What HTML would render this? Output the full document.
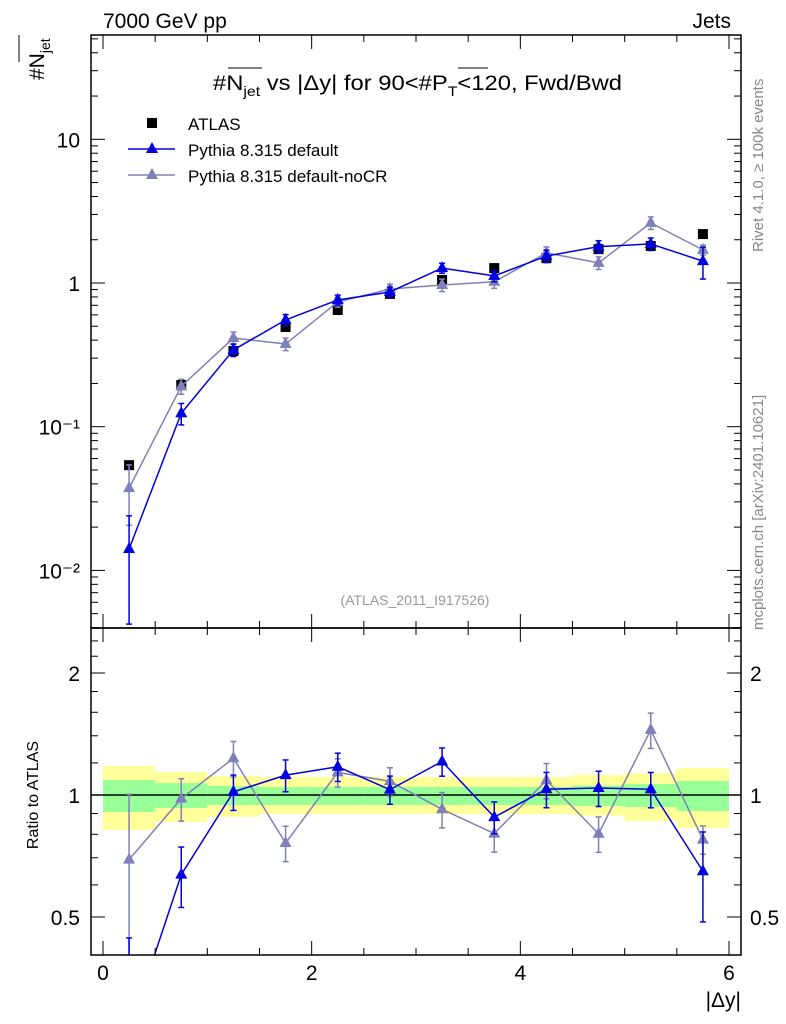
<!DOCTYPE html>
<html><head><meta charset="utf-8"><style>
html,body{margin:0;padding:0;background:#fff;width:786px;height:1024px;overflow:hidden;position:relative}
svg{display:block;font-family:"Liberation Sans","DejaVu Sans",sans-serif;position:absolute;left:0;top:0}
</style></head><body>
<svg id="c" width="786" height="1024" viewBox="0 0 786 1024"></svg>
<script>
const xCenters=[0.25,0.75,1.25,1.75,2.25,2.75,3.25,3.75,4.25,4.75,5.25,5.75];
const atlasVals=[0.054,0.195,0.336,0.494,0.649,0.84,1.05,1.27,1.49,1.72,1.81,2.19];
const defVals=[0.0141,0.124,0.342,0.553,0.762,0.866,1.27,1.12,1.54,1.79,1.87,1.42];
const defErr=[0.7,0.17,0.1,0.09,0.08,0.08,0.08,0.09,0.1,0.1,0.1,0.25];
const nocrVals=[0.0374,0.191,0.414,0.376,0.738,0.908,0.968,1.02,1.62,1.38,2.62,1.70];
const nocrErr=[0.45,0.12,0.1,0.1,0.08,0.08,0.1,0.1,0.1,0.1,0.1,0.08];
const yellowHi=[1.18,1.14,1.114,1.108,1.108,1.108,1.108,1.108,1.108,1.12,1.133,1.166];
const yellowLo=[0.82,0.858,0.883,0.898,0.898,0.898,0.898,0.898,0.898,0.89,0.863,0.829];
const greenHi=[1.089,1.07,1.052,1.046,1.046,1.046,1.046,1.046,1.046,1.055,1.064,1.083];
const greenLo=[0.908,0.929,0.945,0.945,0.945,0.945,0.945,0.945,0.945,0.94,0.934,0.913];
const xTicks=[0,2,4,6];
const yTicksMain=[10,1,0.1,0.01];
const yTickLabelsMain=["10","1","10⁻¹","10⁻²"];
const yTicksRatio=[0.5,1,2];

const L=91,R=741,T=35,M=628,B=955;
const X=v=>103+v*(626/6);
const Y=v=>283-Math.log10(v)*143.7;
const YR=v=>795-Math.log2(v)*122;
const svg=document.getElementById('c');
const NS='http://www.w3.org/2000/svg';
function el(tag,at,parent){const e=document.createElementNS(NS,tag);for(const k in at)e.setAttribute(k,at[k]);(parent||svg).appendChild(e);return e;}
function txt(s,at,parent){const e=el('text',at,parent);e.textContent=s;return e;}

const bands=el('g',{});


xCenters.forEach((c,i)=>{
  const x0=X(c-0.25),x1=X(c+0.25);
  const y=el('rect',{x:x0,y:YR(yellowHi[i]),width:x1-x0,height:YR(yellowLo[i])-YR(yellowHi[i]),fill:'#ffff99'},bands);
  
  
  const g=el('rect',{x:x0,y:YR(greenHi[i]),width:x1-x0,height:YR(greenLo[i])-YR(greenHi[i]),fill:'#99ff99'},bands);
  
  
});
el('line',{x1:L,x2:R,y1:YR(1),y2:YR(1),stroke:'#000','stroke-width':1.5});

function tri(g,x,y,col){el('path',{d:`M${x},${y-7}L${x+6},${y+4}L${x-6},${y+4}Z`,fill:col},g);}
function clampY(y,t,b){return Math.max(t,Math.min(b,y));}
function series(vals,err,col,name,ratio){
  const g=el('g',{});
  
  
  const t=ratio?M:T,b=ratio?B:M;
  const f=ratio?((v,i)=>YR(v/atlasVals[i])):((v,i)=>Y(v));
  const pts=vals.map((v,i)=>[X(xCenters[i]),f(v,i)]);
  for(let i=0;i<pts.length-1;i++){
    let [x1,y1]=pts[i],[x2,y2]=pts[i+1];
    if((y1<t&&y2<t)||(y1>b&&y2>b))continue;
    const cl=(xa,ya,xb,yb)=>{if(ya>b){const s=(b-ya)/(yb-ya);return [xa+s*(xb-xa),b];}if(ya<t){const s=(t-ya)/(yb-ya);return [xa+s*(xb-xa),t];}return [xa,ya];};
    const p1=cl(x1,y1,x2,y2),p2=cl(x2,y2,x1,y1);
    el('line',{x1:p1[0],y1:p1[1],x2:p2[0],y2:p2[1],stroke:col,'stroke-width':1.5},g);
  }
  vals.forEach((v,i)=>{
    const x=pts[i][0];
    const hiR=f(v*(1+err[i]),i),loR=f(Math.max(v*(1-err[i]),1e-6),i);
    if(loR<t||hiR>b)return;
    const hi=clampY(hiR,t,b),lo=clampY(loR,t,b);
    el('line',{x1:x,x2:x,y1:hi,y2:lo,stroke:col,'stroke-width':1.5},g);
    if(hi===hiR)el('line',{x1:x-3,x2:x+3,y1:hi,y2:hi,stroke:col,'stroke-width':1.5},g);
    if(lo===loR)el('line',{x1:x-3,x2:x+3,y1:lo,y2:lo,stroke:col,'stroke-width':1.5},g);
    if(pts[i][1]>t+7&&pts[i][1]<b-4)tri(g,x,pts[i][1],col);
  });
}
const ag=el('g',{});


atlasVals.forEach((v,i)=>{el('rect',{x:X(xCenters[i])-5,y:Y(v)-5,width:10,height:10,fill:'#000'},ag);});
series(nocrVals,nocrErr,'#8080b8','pythia-nocr-series',false);
series(defVals,defErr,'#0000e0','pythia-default-series',false);
series(nocrVals,nocrErr,'#8080b8','pythia-nocr-ratio',true);
series(defVals,defErr,'#0000e0','pythia-default-ratio',true);

el('rect',{x:L,y:T,width:R-L,height:M-T,fill:'none',stroke:'#000','stroke-width':1.5,});
el('rect',{x:L,y:M,width:R-L,height:B-M,fill:'none',stroke:'#000','stroke-width':1.5,});
const tk=el('g',{stroke:'#000','stroke-width':1});
for(let v=0;v<=6.01;v+=0.5){const maj=Math.abs(v%2)<0.01,len=maj?14:7;const x=X(v);
  [[T,1],[M,-1],[M,1],[B,-1]].forEach(([y,d])=>el('line',{x1:x,x2:x,y1:y,y2:y+d*len},tk));}
for(let e=-3;e<=1;e++){for(let m=1;m<10;m++){const v=m*Math.pow(10,e);const y=Y(v);if(y<T||y>M)continue;const len=m==1?14:7;
  el('line',{x1:L,x2:L+len,y1:y,y2:y},tk);el('line',{x1:R,x2:R-len,y1:y,y2:y},tk);}}
[0.5,0.6,0.7,0.8,0.9,1,1.2,1.4,1.6,1.8,2,2.2,2.4].forEach(v=>{const y=YR(v);const len=(v==0.5||v==1||v==2)?14:7;
  el('line',{x1:L,x2:L+len,y1:y,y2:y},tk);el('line',{x1:R,x2:R-len,y1:y,y2:y},tk);});

yTicksMain.forEach((v,i)=>{txt(yTickLabelsMain[i],{x:80,y:Y(v)+8,'text-anchor':'end','font-size':21,});});
yTicksRatio.forEach(v=>{txt(String(v),{x:80,y:YR(v)+8,'text-anchor':'end','font-size':21,});
  txt(String(v),{x:750,y:YR(v)+8,'font-size':21,});});
xTicks.forEach(v=>{txt(String(v),{x:X(v),y:980,'text-anchor':'middle','font-size':21,});});
</script>
<svg width="786" height="1024" font-family="Liberation Sans, DejaVu Sans, sans-serif">
<text x="103" y="28" font-size="21">7000 GeV pp</text>
<text x="731" y="28" font-size="21" text-anchor="end">Jets</text>
<text x="213" y="90" font-size="21" textLength="409" lengthAdjust="spacingAndGlyphs">#N<tspan font-size="14" dy="6">jet</tspan><tspan dy="-6"> vs |Δy| for 90&lt;#P</tspan><tspan font-size="14" dy="6">T</tspan><tspan dy="-6">&lt;120, Fwd/Bwd</tspan></text>
<line x1="228" x2="262" y1="68" y2="68" stroke="#000"/><line x1="458" x2="488" y1="68" y2="68" stroke="#000"/>
<g font-size="17">
<rect x="147" y="118" width="10" height="10" fill="#000"/><text x="188" y="130">ATLAS</text>
<line x1="128" x2="175" y1="149" y2="149" stroke="#0000e0" stroke-width="1.5"/><path d="M152,142L158,153L146,153Z" fill="#0000e0"/><text x="188" y="156">Pythia 8.315 default</text>
<line x1="128" x2="175" y1="175" y2="175" stroke="#8080b8" stroke-width="1.5"/><path d="M152,168L158,179L146,179Z" fill="#8080b8"/><text x="188" y="182">Pythia 8.315 default-noCR</text>
</g>
<text transform="translate(44,80) rotate(-90)" font-size="21">#N<tspan font-size="14" dy="6">jet</tspan></text>
<line x1="19" x2="19" y1="35" y2="62" stroke="#000"/>
<text transform="translate(38,795) rotate(-90)" font-size="16" text-anchor="middle">Ratio to ATLAS</text>
<text x="741" y="1007" font-size="21" text-anchor="end">|Δy|</text>
<text x="415" y="605" font-size="14" fill="#999" text-anchor="middle">(ATLAS_2011_I917526)</text>
<text transform="translate(763,252) rotate(-90)" font-size="15" fill="#888">Rivet 4.1.0, ≥ 100k events</text>
<text transform="translate(763,630) rotate(-90)" font-size="15" fill="#888">mcplots.cern.ch [arXiv:2401.10621]</text>
</svg>
</body></html>
